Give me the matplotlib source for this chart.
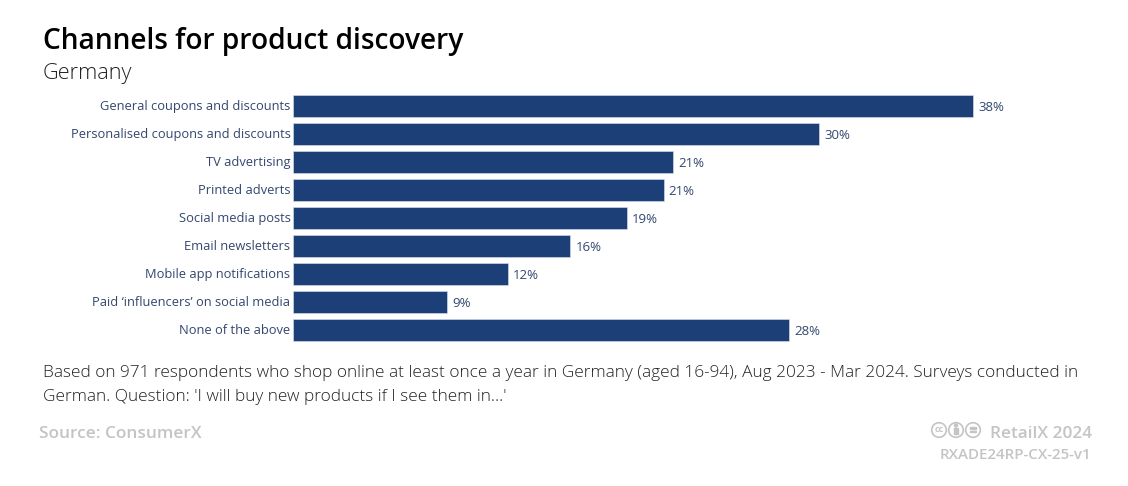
import matplotlib
matplotlib.use("Agg")
import matplotlib.pyplot as plt
from matplotlib.patches import Circle, Rectangle
from matplotlib.transforms import ScaledTranslation

plt.rcParams['font.family'] = ['Open Sans', 'DejaVu Sans']

W, H = 1128, 486
BAR = '#1c3f78'
LABEL = '#33476e'
GREY = '#c4c4c4'

# data
channels = ['General coupons and discounts', 'Personalised coupons and discounts',
            'TV advertising', 'Printed adverts', 'Social media posts',
            'Email newsletters', 'Mobile app notifications',
            'Paid ‘influencers’ on social media', 'None of the above']
shares = [38.0, 29.4, 21.25, 20.7, 18.65, 15.5, 12.0, 8.6, 27.7]
share_labels = ['38%', '30%', '21%', '21%', '19%', '16%', '12%', '9%', '28%']

fig = plt.figure(figsize=(W / 100, H / 100), dpi=100, facecolor='white')


def px(x, y):
    return x / W, 1 - y / H


# overlay in pixel coordinates for the icons
bg = fig.add_axes([0, 0, 1, 1])
bg.set_xlim(0, W)
bg.set_ylim(H, 0)
bg.axis('off')

# plot area spans y 92-344, x from 293
ax = fig.add_axes([293 / W, 1 - 344 / H, (1010 - 293) / W, (344 - 92) / H])
ax.patch.set_alpha(0)
y = list(range(len(channels)))
ax.barh(y, shares, height=0.77, color=BAR, edgecolor='#dde3ec', linewidth=0.4)
ax.set_ylim(len(channels) - 0.5, -0.5)
ax.set_xlim(0, (1010 - 293) / 17.9)
ax.set_yticks(y)
ax.set_yticklabels(channels, fontsize=9.3, color=LABEL)
ax.tick_params(axis='y', length=0, pad=1.8)
# labels sit a pixel above the bar centre
up = ScaledTranslation(0, 1 / 100, fig.dpi_scale_trans)
for lab in ax.get_yticklabels():
    lab.set_transform(lab.get_transform() + up)
ax.set_xticks([])
for s in ax.spines.values():
    s.set_visible(False)
for i, (v, t) in enumerate(zip(shares, share_labels)):
    ax.annotate(t, (v, i), xytext=(3.8, -1.0), textcoords='offset points',
                va='center', fontsize=9.5, color=LABEL)

# titles
fig.text(*px(43, 49), 'Channels for product discovery', fontsize=20.26,
         fontweight='semibold', color='black', va='baseline')
fig.text(*px(43, 79), 'Germany', fontsize=15.7, fontweight='light',
         color='#222222', va='baseline')

# note
fig.text(*px(43, 377), 'Based on 971 respondents who shop online at least once a year in '
         'Germany (aged 16-94), Aug 2023 - Mar 2024. Surveys conducted in',
         fontsize=12.43, fontweight='light', color='#222222', va='baseline')
fig.text(*px(43, 401), "German. Question: 'I will buy new products if I see them in...'",
         fontsize=12.43, fontweight='light', color='#222222', va='baseline')

# footer
fig.text(*px(39, 438), 'Source: ConsumerX', fontsize=12.43, fontweight='semibold',
         color=GREY, va='baseline')
fig.text(*px(1092, 438), 'RetailX 2024', fontsize=12.43, fontweight='semibold',
         color=GREY, ha='right', va='baseline')
fig.text(*px(1091, 459), 'RXADE24RP-CX-25-v1', fontsize=10.9, fontweight='semibold',
         color=GREY, ha='right', va='baseline')

# licence icons
for cx in (939, 956, 973):
    bg.add_patch(Circle((cx, 430), 7.3, fill=False, edgecolor=GREY, linewidth=1.2))
bg.text(939, 429.5, 'cc', fontsize=6.5, fontweight='bold', color=GREY,
        ha='center', va='center')
bg.add_patch(Circle((956, 425.5), 1.5, color=GREY))
bg.add_patch(Rectangle((954.4, 428), 3.2, 6.2, color=GREY))
bg.add_patch(Rectangle((969.8, 427.4), 6.4, 1.1, color=GREY))
bg.add_patch(Rectangle((969.8, 431.2), 6.4, 1.1, color=GREY))

fig.savefig('out.png', dpi=100)
